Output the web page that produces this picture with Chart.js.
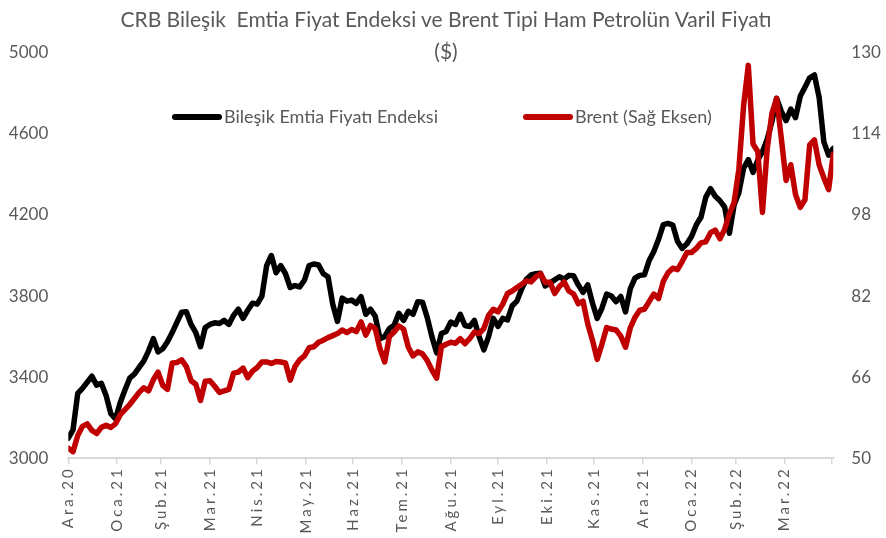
<!DOCTYPE html>
<html>
<head>
<meta charset="utf-8">
<script src="https://cdn.jsdelivr.net/npm/chart.js@4"></script>
<style>
    body { margin: 0; background: #fff; }
    #wrap { position: relative; width: 886px; height: 538px; font-family: Lato, sans-serif; color: #595959; }
    #chart { position: absolute; left: 0; top: 0; }
    .title { position: absolute; left: 0; width: 892px; text-align: center; font-size: 21px; white-space: pre; }
    .legend { position: absolute; top: 104px; font-size: 18px; line-height: 24px; white-space: nowrap; }
    .legend i { display: inline-block; width: 50px; height: 6px; border-radius: 3px; vertical-align: middle; margin-right: 2px; position: relative; top: -1px; }
</style>
</head>
<body>
<div id="wrap">
    <canvas id="chart" width="886" height="538"></canvas>
    <div class="title" style="top: 6px;">CRB Bileşik  Emtia Fiyat Endeksi ve Brent Tipi Ham Petrolün Varil Fiyatı</div>
    <div class="title" style="top: 38px;">($)</div>
    <div class="legend" style="left: 172px;"><i style="background:#000000"></i>Bileşik Emtia Fiyatı Endeksi</div>
    <div class="legend" style="left: 523px;"><i style="background:#c00000"></i>Brent (Sağ Eksen)</div>
</div>
<script>
    // x axis: days since 31.12.2020, one point every 3 days
    const stepDays = 3;
    const tickLabels = ["Ara.20", "Oca.21", "Şub.21", "Mar.21", "Nis.21", "May.21", "Haz.21", "Tem.21",
        "Ağu.21", "Eyl.21", "Eki.21", "Kas.21", "Ara.21", "Oca.22", "Şub.22", "Mar.22", ""];
    const monthLengths = [31, 28, 31, 30, 31, 30, 31, 31, 30, 31, 30, 31, 31, 28, 31, 30]; // Oca.21 .. Nis.22

    // Bileşik Emtia Fiyatı Endeksi (sol eksen)
    const crb = [
        3100, 3140, 3320, 3345, 3375, 3405, 3361, 3370, 3310, 3220,
        3195, 3275, 3337, 3395, 3415, 3448, 3480, 3530, 3590, 3525,
        3540, 3575, 3620, 3670, 3720, 3723, 3660, 3620, 3550, 3645,
        3660, 3668, 3665, 3680, 3660, 3705, 3735, 3690, 3730, 3765,
        3760, 3800, 3950, 4000, 3915, 3950, 3910, 3842, 3852, 3845,
        3878, 3950, 3958, 3953, 3910, 3895, 3760, 3675, 3790, 3775,
        3780, 3764, 3797, 3710, 3735, 3700, 3590, 3600, 3640, 3656,
        3715, 3680, 3725, 3710, 3772, 3770, 3695, 3600, 3520, 3615,
        3625, 3672, 3660, 3710, 3655, 3650, 3680, 3600, 3535, 3600,
        3690, 3650, 3690, 3682, 3752, 3775, 3835, 3883, 3904, 3910,
        3912, 3850, 3865, 3880, 3895, 3883, 3902, 3900, 3855, 3818,
        3855, 3766, 3690, 3740, 3810, 3800, 3772, 3798, 3722, 3835,
        3888, 3902, 3905, 3975, 4020, 4080, 4152, 4158, 4150, 4070,
        4035, 4058, 4095, 4152, 4190, 4288, 4330, 4292, 4270, 4238,
        4110, 4250, 4310, 4430, 4473, 4410, 4470, 4512, 4573, 4660,
        4775, 4710, 4665, 4722, 4680, 4785, 4830, 4876, 4890, 4780,
        4560, 4495, 4528
    ];

    // Brent, $/varil (sağ eksen)
    const brent = [
        52.0, 51.3, 54.5, 56.3, 56.8, 55.5, 54.9, 56.1, 56.5, 56.1,
        56.8, 58.6, 59.6, 60.6, 61.8, 63.0, 63.9, 63.3, 65.5, 67.0,
        64.4, 63.6, 68.8, 68.9, 69.4, 68.1, 65.3, 64.6, 61.4, 65.2,
        65.3, 64.2, 63.0, 63.3, 63.6, 66.8, 67.0, 67.8, 65.9, 67.2,
        67.9, 69.0, 69.0, 68.7, 69.1, 69.0, 68.8, 65.4, 68.1, 69.4,
        70.2, 71.8, 72.0, 72.9, 73.3, 73.8, 74.2, 74.6, 75.3, 74.8,
        75.4, 75.0, 76.9, 74.3, 76.2, 75.6, 71.6, 69.0, 74.0, 74.9,
        76.1, 75.5, 71.9, 70.2, 71.0, 70.6, 69.3, 67.4, 65.8, 72.0,
        72.5, 72.9, 72.7, 73.6, 72.6, 73.6, 74.9, 74.6, 75.6, 78.2,
        79.4, 78.9, 80.4, 82.5, 83.0, 83.7, 84.3, 85.0, 84.8, 85.8,
        86.4, 84.7, 84.7, 82.5, 83.9, 84.8, 83.0, 82.4, 80.5, 81.0,
        76.5, 73.3, 69.5, 72.5, 75.8, 75.5, 75.3, 74.1, 71.9, 75.7,
        77.8, 79.2, 79.4, 80.9, 82.4, 81.5, 84.9, 86.6, 87.5, 87.2,
        88.8, 90.6, 90.6, 91.4, 92.5, 92.7, 94.5, 95.0, 93.3, 95.2,
        98.2, 100.5, 107.0, 119.5, 127.5, 112.0, 110.5, 98.5, 111.0, 118.0,
        121.0, 113.0, 104.8, 107.9, 102.0, 99.5, 101.0, 111.8, 112.8, 107.9,
        105.3, 103.0, 110.0
    ];

    const tickDays = [0];
    monthLengths.forEach((len) => tickDays.push(tickDays[tickDays.length - 1] + len));

    const toPoints = (values) => values.map((v, i) => ({ x: i * stepDays, y: v }));

    const axisColor = "#d9d9d9";
    const textColor = "#595959";
    const tickFont = { family: "Lato", size: 17 };

    // spaced-out month labels, like the rotated Excel text
    const spaceLabels = (scale) => {
        if (scale._spaced) {
            return;
        }
        const draw = scale.drawLabels.bind(scale);
        scale.drawLabels = (area) => {
            scale.ctx.save();
            scale.ctx.letterSpacing = "3px";
            draw(area);
            scale.ctx.restore();
        };
        scale._spaced = true;
    };

    new Chart(document.getElementById("chart"), {
        type: "line",
        data: {
            datasets: [{
                label: "Bileşik Emtia Fiyatı Endeksi",
                data: toPoints(crb),
                yAxisID: "y",
                borderColor: "#000000",
                order: 2
            }, {
                label: "Brent (Sağ Eksen)",
                data: toPoints(brent),
                yAxisID: "y2",
                borderColor: "#c00000",
                order: 1
            }]
        },
        options: {
            responsive: false,
            animation: false,
            layout: { padding: { top: 52.7, left: 0, right: 0, bottom: 0 } },
            elements: {
                point: { radius: 0 },
                line: { borderWidth: 5.5, tension: 0, borderJoinStyle: "round", borderCapStyle: "round" }
            },
            plugins: {
                legend: { display: false },
                title: { display: false },
                tooltip: { enabled: false }
            },
            scales: {
                x: {
                    type: "linear",
                    min: 0,
                    max: 486,
                    afterBuildTicks: (scale) => {
                        scale.ticks = tickDays.map((value) => ({ value }));
                    },
                    afterFit: (scale) => { scale.height = 79.7; },
                    afterUpdate: spaceLabels,
                    ticks: {
                        autoSkip: false,
                        maxRotation: 90,
                        minRotation: 90,
                        padding: 2,
                        color: textColor,
                        font: { family: "Lato", size: 15 },
                        callback: (value) => {
                            const i = tickDays.indexOf(value);
                            return i >= 0 ? tickLabels[i] : "";
                        }
                    },
                    grid: { drawOnChartArea: false, color: axisColor, tickLength: 6, lineWidth: 1.5 },
                    border: { color: axisColor, width: 2 }
                },
                y: {
                    position: "left",
                    min: 3000,
                    max: 5000,
                    afterFit: (scale) => { scale.width = 68.3; },
                    ticks: { stepSize: 400, padding: 20, color: textColor, font: tickFont, callback: (v) => String(v) },
                    grid: { display: false, drawTicks: false },
                    border: { display: false }
                },
                y2: {
                    position: "right",
                    min: 50,
                    max: 130,
                    afterFit: (scale) => { scale.width = 52.7; },
                    ticks: { stepSize: 16, padding: 18, color: textColor, font: tickFont, callback: (v) => String(v) },
                    grid: { display: false, drawTicks: false },
                    border: { display: false }
                }
            }
        }
    });
</script>
</body>
</html>
